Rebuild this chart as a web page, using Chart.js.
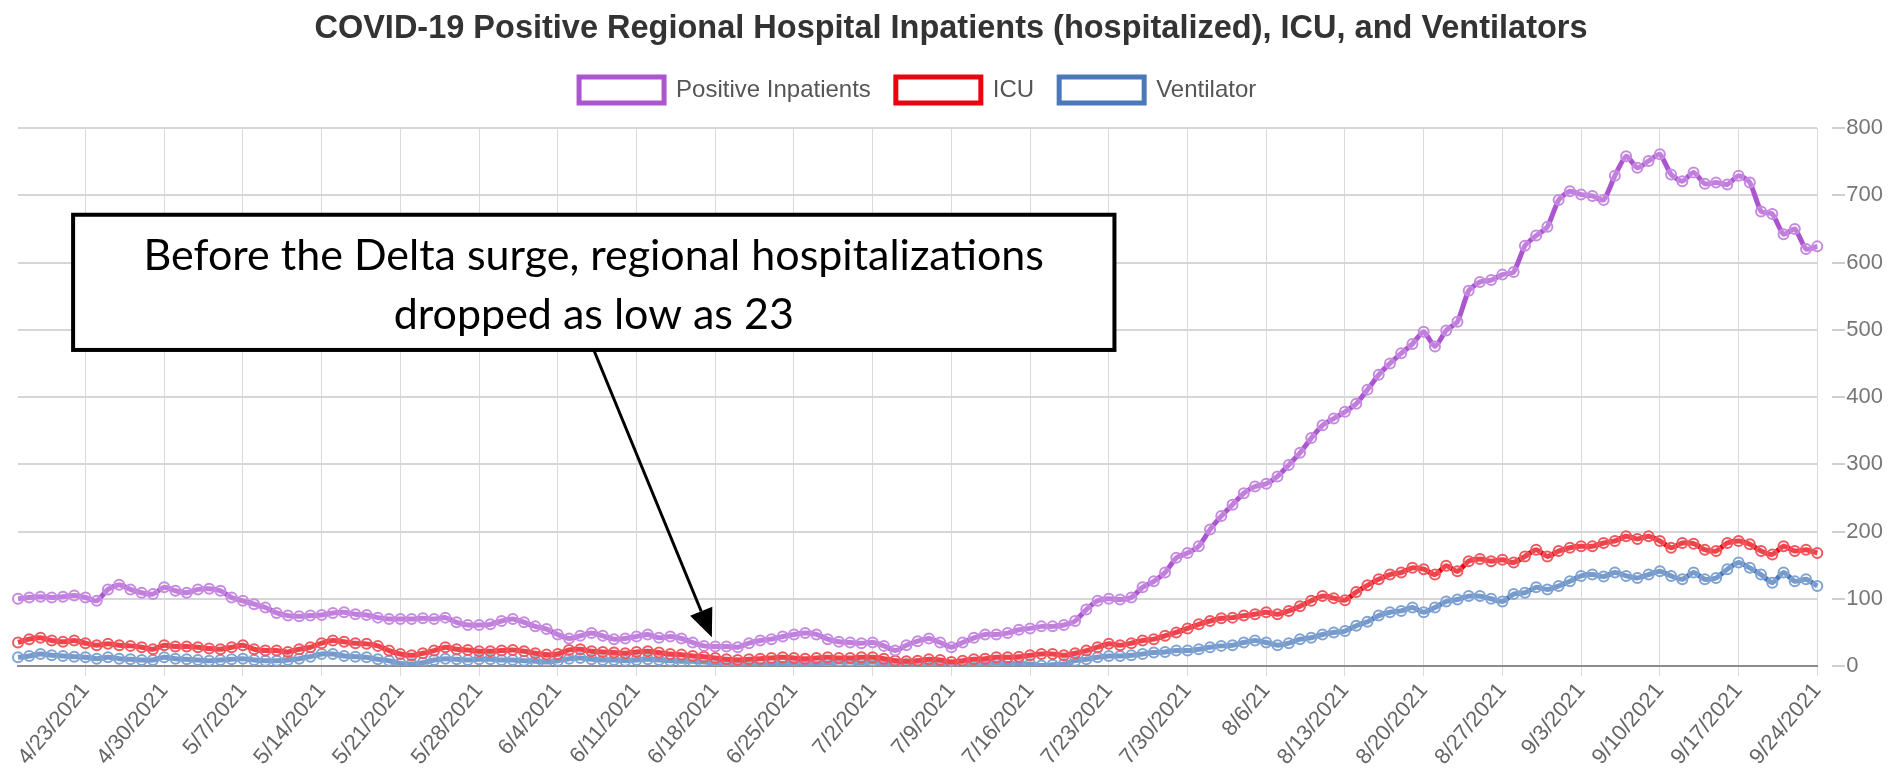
<!DOCTYPE html>
<html>
<head>
<meta charset="utf-8">
<title>COVID-19 Positive Regional Hospital Inpatients</title>
<script src="https://cdn.jsdelivr.net/npm/chart.js@4/dist/chart.umd.min.js"></script>
<style>
  html, body { margin: 0; padding: 0; background: #fff; }
  #wrap { width: 1898px; height: 772px; position: relative; }
</style>
</head>
<body>
<div id="wrap"><canvas id="hospChart"></canvas></div>
<script>
// daily dates, 4/17/2021 .. 9/24/2021
const dates = [
  '4/17/2021','4/18/2021','4/19/2021','4/20/2021','4/21/2021','4/22/2021','4/23/2021','4/24/2021','4/25/2021','4/26/2021','4/27/2021','4/28/2021','4/29/2021','4/30/2021',
  '5/1/2021','5/2/2021','5/3/2021','5/4/2021','5/5/2021','5/6/2021','5/7/2021','5/8/2021','5/9/2021','5/10/2021','5/11/2021','5/12/2021','5/13/2021','5/14/2021','5/15/2021','5/16/2021',
  '5/17/2021','5/18/2021','5/19/2021','5/20/2021','5/21/2021','5/22/2021','5/23/2021','5/24/2021','5/25/2021','5/26/2021','5/27/2021','5/28/2021','5/29/2021','5/30/2021','5/31/2021',
  '6/1/2021','6/2/2021','6/3/2021','6/4/2021','6/5/2021','6/6/2021','6/7/2021','6/8/2021','6/9/2021','6/10/2021','6/11/2021','6/12/2021','6/13/2021','6/14/2021','6/15/2021',
  '6/16/2021','6/17/2021','6/18/2021','6/19/2021','6/20/2021','6/21/2021','6/22/2021','6/23/2021','6/24/2021','6/25/2021','6/26/2021','6/27/2021','6/28/2021','6/29/2021','6/30/2021',
  '7/1/2021','7/2/2021','7/3/2021','7/4/2021','7/5/2021','7/6/2021','7/7/2021','7/8/2021','7/9/2021','7/10/2021','7/11/2021','7/12/2021','7/13/2021','7/14/2021','7/15/2021','7/16/2021',
  '7/17/2021','7/18/2021','7/19/2021','7/20/2021','7/21/2021','7/22/2021','7/23/2021','7/24/2021','7/25/2021','7/26/2021','7/27/2021','7/28/2021','7/29/2021','7/30/2021','7/31/2021',
  '8/1/2021','8/2/2021','8/3/2021','8/4/2021','8/5/2021','8/6/21','8/7/2021','8/8/2021','8/9/2021','8/10/2021','8/11/2021','8/12/2021','8/13/2021','8/14/2021','8/15/2021','8/16/2021',
  '8/17/2021','8/18/2021','8/19/2021','8/20/2021','8/21/2021','8/22/2021','8/23/2021','8/24/2021','8/25/2021','8/26/2021','8/27/2021','8/28/2021','8/29/2021','8/30/2021','8/31/2021',
  '9/1/2021','9/2/2021','9/3/2021','9/4/2021','9/5/2021','9/6/2021','9/7/2021','9/8/2021','9/9/2021','9/10/2021','9/11/2021','9/12/2021','9/13/2021','9/14/2021','9/15/2021','9/16/2021',
  '9/17/2021','9/18/2021','9/19/2021','9/20/2021','9/21/2021','9/22/2021','9/23/2021','9/24/2021'
];

// dates that get a label and a grid line
const tickDates = [
  '4/23/2021','4/30/2021','5/7/2021','5/14/2021','5/21/2021','5/28/2021','6/4/2021','6/11/2021','6/18/2021','6/25/2021','7/2/2021','7/9/2021',
  '7/16/2021','7/23/2021','7/30/2021','8/6/21','8/13/2021','8/20/2021','8/27/2021','9/3/2021','9/10/2021','9/17/2021','9/24/2021'
];

const positiveInpatients = [
  100,102,103,102,103,105,102,97,114,121,
  114,109,107,117,112,109,114,115,112,102,
  97,92,87,79,75,74,75,76,79,80,
  77,76,72,70,70,70,71,70,72,65,
  61,61,62,67,70,65,59,55,47,41,
  45,49,45,40,41,44,47,42,44,41,
  35,30,29,29,28,34,38,40,44,47,
  49,47,40,36,35,34,35,30,23,31,
  37,41,35,28,35,42,47,47,49,54,
  56,59,59,61,67,84,97,100,99,102,
  117,126,139,161,168,178,203,223,240,257,
  267,271,282,299,317,339,358,368,378,390,
  411,433,450,465,479,497,475,499,512,558,
  571,574,582,586,625,640,653,693,706,701,
  699,693,729,758,741,751,761,731,721,734,
  717,719,716,729,719,676,672,642,650,620,624
];

const icu = [
  35,40,42,38,36,38,34,31,33,31,
  30,28,25,31,29,29,28,26,25,28,
  31,25,23,23,21,25,28,34,38,36,
  34,33,30,23,18,16,19,23,28,25,
  24,22,22,23,24,22,19,17,18,24,
  25,22,21,20,19,21,22,20,18,17,
  15,14,12,10,9,10,11,12,13,12,
  11,12,13,12,12,13,13,11,8,7,
  8,10,9,6,8,10,11,13,13,14,
  16,18,18,16,19,23,28,33,31,34,
  38,40,45,50,56,62,67,71,72,75,
  77,80,77,82,89,97,104,101,98,110,
  120,129,136,139,146,144,136,149,141,156,
  159,156,158,154,163,173,163,171,176,178,
  178,183,186,193,189,193,186,176,183,182,
  173,171,183,186,181,171,166,178,171,173,168
];

const ventilator = [
  13,15,18,16,15,14,13,11,13,11,
  10,9,9,13,11,10,9,8,9,10,
  11,9,8,8,9,11,14,18,18,15,
  14,13,10,8,4,3,5,9,11,10,
  9,10,10,9,9,8,7,6,8,11,
  12,10,9,9,8,9,10,9,8,7,
  7,6,5,5,4,3,2,3,4,5,
  4,4,5,6,6,5,6,4,3,3,
  3,4,3,1,1,3,4,5,4,3,
  3,1,2,3,8,10,13,15,15,16,
  18,20,21,23,23,25,28,30,31,35,
  38,35,31,34,40,42,47,50,52,60,
  66,75,80,82,87,80,87,96,99,104,
  104,100,96,107,109,117,114,119,126,134,
  136,133,139,134,131,136,141,134,129,139,
  129,131,144,154,146,136,124,139,126,129,119
];

const yTicks = [0, 100, 200, 300, 400, 500, 600, 700, 800];

const calloutLines = ['Before the Delta surge, regional hospitalizations', 'dropped as low as 23'];
// callout anchored in data units (category index / y value)
const callout = { from: 4.9, to: 97.5, top: 671, bottom: 470, tailAt: 51.2, tipAt: 61.7, tipValue: 43 };

const calloutPlugin = {
    id: 'callout',
    afterDraw(chart) {
        const { ctx } = chart;
        const x = chart.scales.x;
        const y = chart.scales.y;
        const left = x.getPixelForValue(callout.from);
        const right = x.getPixelForValue(callout.to);
        const top = y.getPixelForValue(callout.top);
        const bottom = y.getPixelForValue(callout.bottom);

        ctx.save();
        ctx.fillStyle = '#ffffff';
        ctx.fillRect(left, top, right - left, bottom - top);
        ctx.strokeStyle = '#000';
        ctx.lineWidth = 4;
        ctx.strokeRect(left, top, right - left, bottom - top);

        ctx.fillStyle = '#000';
        ctx.font = '43px Lato, "Open Sans", sans-serif';
        ctx.textAlign = 'center';
        ctx.textBaseline = 'alphabetic';
        const cx = (left + right) / 2;
        ctx.fillText(calloutLines[0], cx, top + 55);
        ctx.fillText(calloutLines[1], cx, top + 114);

        // arrow
        const x1 = x.getPixelForValue(callout.tailAt);
        const y1 = bottom;
        const x2 = x.getPixelForValue(callout.tipAt);
        const y2 = y.getPixelForValue(callout.tipValue);
        const ang = Math.atan2(y2 - y1, x2 - x1);
        const headLen = 28, headHalf = 12;
        const bx = x2 - headLen * Math.cos(ang);
        const by = y2 - headLen * Math.sin(ang);
        ctx.lineWidth = 3;
        ctx.beginPath();
        ctx.moveTo(x1, y1);
        ctx.lineTo(bx, by);
        ctx.stroke();
        ctx.beginPath();
        ctx.moveTo(x2, y2);
        ctx.lineTo(bx + headHalf * Math.sin(ang), by - headHalf * Math.cos(ang));
        ctx.lineTo(bx - headHalf * Math.sin(ang), by + headHalf * Math.cos(ang));
        ctx.closePath();
        ctx.fill();
        ctx.restore();
    }
};

function series(label, data, line, point) {
    return {
        label: label,
        data: data,
        borderColor: line,
        backgroundColor: 'rgba(255,255,255,0)',
        borderWidth: 5,
        tension: 0.2,
        pointRadius: 5,
        pointBorderWidth: 2,
        pointBorderColor: point,
        pointBackgroundColor: 'rgba(255,255,255,0.25)'
    };
}

document.addEventListener('DOMContentLoaded', function () {
    const ctx = document.getElementById('hospChart').getContext('2d');
    new Chart(ctx, {
        type: 'line',
        data: {
            labels: dates,
            datasets: [
                series('Positive Inpatients', positiveInpatients, '#ab55cf', '#c68ae2'),
                series('ICU', icu, '#e80510', '#f0585e'),
                series('Ventilator', ventilator, '#4a78b9', '#7fa3d3')
            ]
        },
        options: {
            responsive: true,
            maintainAspectRatio: false,
            animation: false,
            layout: { padding: { left: 18, right: 14, top: 0, bottom: 0 } },
            plugins: {
                title: {
                    display: true,
                    fullSize: true,
                    weight: 2000,
                    text: 'COVID-19 Positive Regional Hospital Inpatients (hospitalized), ICU, and Ventilators',
                    color: '#333',
                    font: { family: 'Arial, "Liberation Sans", sans-serif', size: 32.5, weight: 'bold' },
                    padding: { top: 10, bottom: 3 }
                },
                legend: {
                    fullSize: false,
                    weight: 1800,
                    labels: {
                        boxWidth: 85,
                        boxHeight: 26,
                        padding: 25,
                        color: '#555',
                        font: { family: 'Arial, "Liberation Sans", sans-serif', size: 24 }
                    }
                },
                // empty spacer between legend and plot
                subtitle: {
                    display: true,
                    fullSize: false,
                    weight: 1000,
                    text: '',
                    font: { size: 10 },
                    padding: { top: 0, bottom: 3 }
                },
                tooltip: { enabled: false }
            },
            scales: {
                x: {
                    offset: false,
                    grid: { color: '#dadada', lineWidth: 1, tickLength: 10 },
                    border: { color: '#8c8c8c', width: 2 },
                    ticks: {
                        autoSkip: false,
                        minRotation: 50,
                        maxRotation: 50,
                        color: '#666',
                        padding: 2,
                        font: { family: 'Arial, "Liberation Sans", sans-serif', size: 22 },
                        callback: function (value) {
                            const d = dates[value];
                            return tickDates.includes(d) ? d : null;
                        }
                    }
                },
                y: {
                    position: 'right',
                    min: yTicks[0],
                    max: yTicks[yTicks.length - 1],
                    afterBuildTicks: function (axis) {
                        axis.ticks = yTicks.map(v => ({ value: v }));
                    },
                    grid: {
                        color: c => (c.tick && c.tick.value === 0 ? '#8c8c8c' : '#d6d6d6'),
                        lineWidth: 2,
                        tickLength: 28,
                        tickColor: '#cfcfcf',
                        tickWidth: 2,
                        tickBorderDash: [0, 15, 13, 0]
                    },
                    border: { display: false },
                    ticks: {
                        color: '#777',
                        padding: 1,
                        font: { family: 'Arial, "Liberation Sans", sans-serif', size: 22 }
                    }
                }
            }
        },
        plugins: [calloutPlugin]
    });
});
</script>
</body>
</html>
